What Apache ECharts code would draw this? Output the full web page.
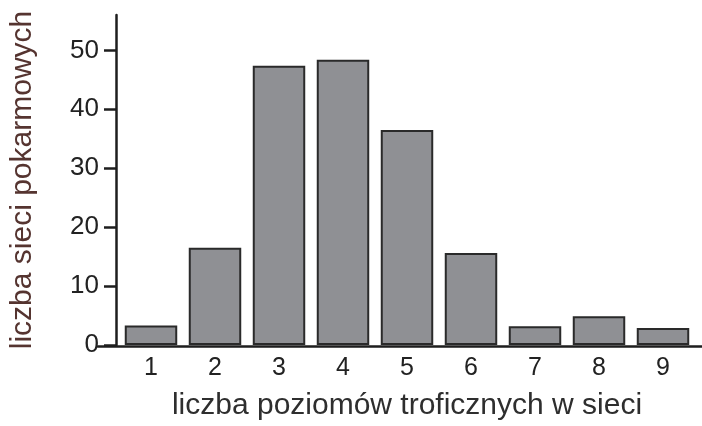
<!DOCTYPE html>
<html>
<head>
<meta charset="utf-8">
<script src="https://cdn.jsdelivr.net/npm/echarts@6/dist/echarts.min.js"></script>
<style>
  html, body { margin: 0; padding: 0; background: #fff; }
  #chart { width: 702px; height: 426px; }
</style>
</head>
<body>
<div id="chart"></div>
<script>
const levels = ['1', '2', '3', '4', '5', '6', '7', '8', '9']
const networkCounts = [3.3, 16.5, 47.4, 48.4, 36.5, 15.6, 3.2, 4.9, 2.9]
const yTicks = [0, 10, 20, 30, 40, 50]

const xTitle = 'liczba poziomów troficznych w sieci'
const yTitle = 'liczba sieci pokarmowych'

const axisColor = '#1e1e1e'
const font = '"Liberation Sans", Arial, sans-serif'

const chart = echarts.init(document.getElementById('chart'), null, { renderer: 'canvas' })

chart.setOption({
  animation: false,
  backgroundColor: '#fff',
  grid: [
    { left: 114, right: 7, top: 15, bottom: 80 },
    // only used to draw the longer baseline under the bars
    { left: 98, right: 0, top: 15, bottom: 80 }
  ],
  xAxis: [
    {
      type: 'category',
      gridIndex: 0,
      data: levels,
      axisLine: { show: false },
      axisTick: { show: false },
      axisLabel: { color: '#222', fontSize: 25, fontFamily: font, margin: 11 },
      name: xTitle,
      nameLocation: 'middle',
      nameGap: 46,
      nameTextStyle: { color: '#2e2e2e', fontSize: 30, fontFamily: font }
    },
    {
      type: 'value',
      gridIndex: 1,
      min: 0,
      max: 1,
      axisLine: { show: true, lineStyle: { color: axisColor, width: 2.5 } },
      axisTick: { show: false },
      axisLabel: { show: false },
      splitLine: { show: false }
    }
  ],
  yAxis: [
    {
      type: 'value',
      gridIndex: 0,
      min: yTicks[0],
      max: 56,
      interval: yTicks[1] - yTicks[0],
      offset: 3,
      splitLine: { show: false },
      axisLine: { show: true, lineStyle: { color: axisColor, width: 2.5 } },
      axisTick: { show: true, length: 12, lineStyle: { color: axisColor, width: 2.5 } },
      axisLabel: {
        color: '#222',
        fontSize: 26,
        fontFamily: font,
        margin: 17,
        showMaxLabel: false
      },
      name: yTitle,
      nameLocation: 'middle',
      nameGap: 78,
      nameRotate: 90,
      nameTextStyle: { color: '#553430', fontSize: 30, fontFamily: font }
    },
    {
      type: 'value',
      gridIndex: 1,
      show: false
    }
  ],
  series: [
    {
      type: 'bar',
      xAxisIndex: 0,
      yAxisIndex: 0,
      data: networkCounts,
      barWidth: '82%',
      itemStyle: {
        color: '#8f9094',
        borderColor: '#2a2a2a',
        borderWidth: 2
      }
    }
  ]
})
</script>
</body>
</html>
